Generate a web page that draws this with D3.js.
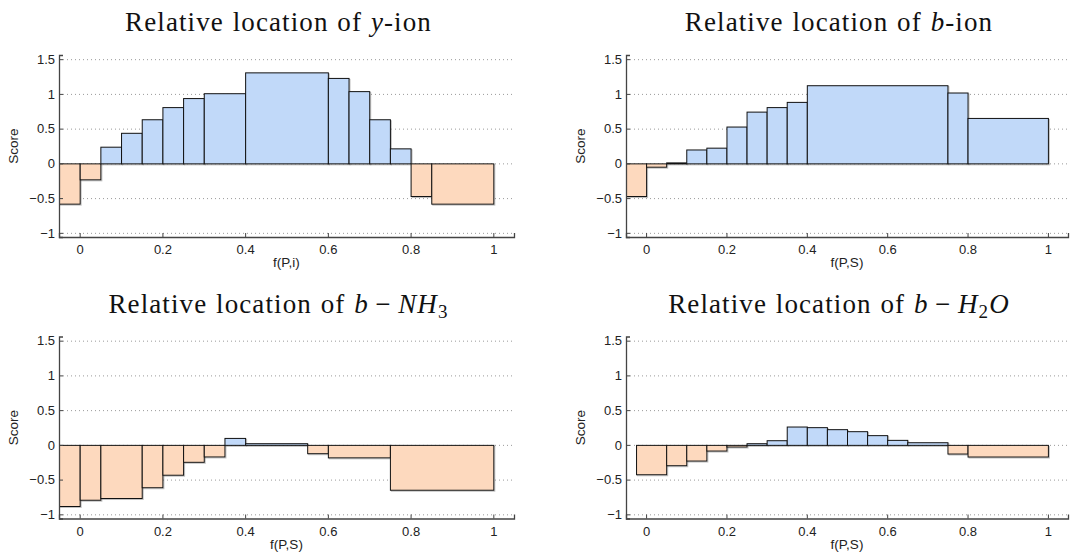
<!DOCTYPE html>
<html>
<head>
<meta charset="utf-8">
<script src="https://cdn.jsdelivr.net/npm/d3@7"></script>
<style>
  body { margin: 0; background: #fff; }
  svg { display: block; }
  .tick text { font-family: "Liberation Sans", Arial, sans-serif; font-size: 13px; fill: #222; }
  .title { font-family: "Liberation Serif", "DejaVu Serif", serif; font-size: 27px; fill: #111; letter-spacing: 1.1px; word-spacing: 1px; }
  .lab { font-family: "Liberation Sans", Arial, sans-serif; font-size: 13.5px; fill: #222; }
</style>
</head>
<body>
<svg class="chart" width="1078" height="554"></svg>
<script>
// bin edges and scores for each panel
const yIonEdges = [-0.05, 0, 0.05, 0.1, 0.15, 0.2, 0.25, 0.3, 0.4, 0.6, 0.65, 0.7, 0.75, 0.8, 0.85, 1.0];
const yIonScores = [-0.58, -0.23, 0.24, 0.44, 0.635, 0.81, 0.94, 1.01, 1.31, 1.23, 1.04, 0.635, 0.216, -0.47, -0.58];

const bIonEdges = [-0.05, 0, 0.05, 0.1, 0.15, 0.2, 0.25, 0.3, 0.35, 0.4, 0.75, 0.8, 1.0];
const bIonScores = [-0.47, -0.048, 0.014, 0.2, 0.226, 0.53, 0.745, 0.81, 0.885, 1.125, 1.02, 0.654];

const bNH3Edges = [-0.05, 0, 0.05, 0.15, 0.2, 0.25, 0.3, 0.35, 0.4, 0.55, 0.6, 0.75, 1.0];
const bNH3Scores = [-0.88, -0.79, -0.765, -0.61, -0.43, -0.244, -0.167, 0.1, 0.024, -0.12, -0.18, -0.646];

const bH2OEdges = [-0.025, 0.05, 0.1, 0.15, 0.2, 0.25, 0.3, 0.35, 0.4, 0.45, 0.5, 0.55, 0.6, 0.65, 0.75, 0.8, 1.0];
const bH2OScores = [-0.423, -0.293, -0.226, -0.082, -0.024, 0.024, 0.067, 0.264, 0.255, 0.226, 0.197, 0.14, 0.072, 0.038, -0.125, -0.168];

const xTicks = [0, 0.2, 0.4, 0.6, 0.8, 1];
const yTicks = [-1, -0.5, 0, 0.5, 1, 1.5];

const svg = d3.select("svg.chart");

function translate(x, y) {
    return `translate(${x}, ${y})`;
}

function fmt(v) {
    return v < 0 ? "\u2212" + Math.abs(v) : String(v);
}

// one histogram-like panel
function panel(opts) {
    const x = d3.scaleLinear().domain([-0.05, 1.05]).range([opts.left, opts.right]);
    const y = d3.scaleLinear().domain([-1.06, 1.56]).range([opts.top + 182, opts.top]);

    const g = svg.append("g");

    // dotted grid
    g.append("g").selectAll("line")
        .data(yTicks)
        .join("line")
        .attr("x1", opts.left)
        .attr("x2", opts.right)
        .attr("y1", d => y(d) + 0.5)
        .attr("y2", d => y(d) + 0.5)
        .attr("stroke", "#9a9a9a")
        .attr("stroke-width", 1)
        .attr("stroke-dasharray", "1,3");

    const bins = opts.scores.map((s, i) => ({ x0: opts.edges[i], x1: opts.edges[i + 1], v: s }));

    // soft shadow under the bars
    g.append("g").selectAll("rect")
        .data(bins)
        .join("rect")
        .attr("x", d => x(d.x0) + 1.5)
        .attr("width", d => x(d.x1) - x(d.x0))
        .attr("y", d => Math.min(y(d.v), y(0)) + 1.5)
        .attr("height", d => Math.abs(y(d.v) - y(0)))
        .attr("fill", "none")
        .attr("stroke", "#999")
        .attr("stroke-opacity", 0.6)
        .attr("stroke-width", 1);

    // bars
    g.append("g").selectAll("rect")
        .data(bins)
        .join("rect")
        .attr("x", d => x(d.x0) + 0.5)
        .attr("width", d => x(d.x1) - x(d.x0))
        .attr("y", d => Math.min(y(d.v), y(0)) + 0.5)
        .attr("height", d => Math.abs(y(d.v) - y(0)))
        .attr("fill", d => d.v >= 0 ? "#c1d9f9" : "#fdd9be")
        .attr("stroke", "#111")
        .attr("stroke-width", 1);

    // axes
    const xAxis = d3.axisBottom(x).tickValues(xTicks).tickSize(-4).tickPadding(8).tickFormat(fmt);
    const gx = g.append("g")
        .attr("transform", translate(0, opts.top + 182))
        .call(xAxis);
    const yAxis = d3.axisLeft(y).tickValues(yTicks).tickSize(-4).tickPadding(4).tickFormat(fmt);
    const gy = g.append("g")
        .attr("transform", translate(opts.left, 0))
        .call(yAxis);
    [gx, gy].forEach(a => {
        a.select(".domain").attr("stroke", "#444").attr("stroke-width", 1.3);
        a.selectAll(".tick line").attr("stroke", "#444");
    });

    // labels
    g.append("text")
        .attr("class", "lab")
        .attr("text-anchor", "middle")
        .attr("x", x(0.5))
        .attr("y", opts.top + 212)
        .text(opts.xLabel);

    g.append("text")
        .attr("class", "lab")
        .attr("text-anchor", "middle")
        .attr("transform", translate(opts.left - 41, y(0.25)) + " rotate(-90)")
        .text("Score");

    const title = g.append("text")
        .attr("class", "title")
        .attr("text-anchor", "middle")
        .attr("x", x(0.5) - 8)
        .attr("y", opts.top - 24);
    opts.title.forEach(part => {
        const t = title.append("tspan").text(part.t);
        if (part.i) t.attr("font-style", "italic");
        if (part.sub) t.attr("font-size", "19px").attr("dy", 5);
        if (part.up) t.attr("dy", -5);
    });
}

panel({
    left: 59, right: 514, top: 55,
    edges: yIonEdges, scores: yIonScores, xLabel: "f(P,i)",
    title: [{ t: "Relative location of " }, { t: "y", i: true }, { t: "-ion" }]
});
panel({
    left: 626, right: 1068, top: 55,
    edges: bIonEdges, scores: bIonScores, xLabel: "f(P,S)",
    title: [{ t: "Relative location of " }, { t: "b", i: true }, { t: "-ion" }]
});
panel({
    left: 59, right: 514, top: 336.5,
    edges: bNH3Edges, scores: bNH3Scores, xLabel: "f(P,S)",
    title: [{ t: "Relative location of " }, { t: "b", i: true }, { t: "\u2009\u2212\u2009" }, { t: "NH", i: true }, { t: "3", sub: true }]
});
panel({
    left: 626, right: 1068, top: 336.5,
    edges: bH2OEdges, scores: bH2OScores, xLabel: "f(P,S)",
    title: [{ t: "Relative location of " }, { t: "b", i: true }, { t: "\u2009\u2212\u2009" }, { t: "H", i: true }, { t: "2", sub: true }, { t: "O", i: true, up: true }]
});
</script>
</body>
</html>
